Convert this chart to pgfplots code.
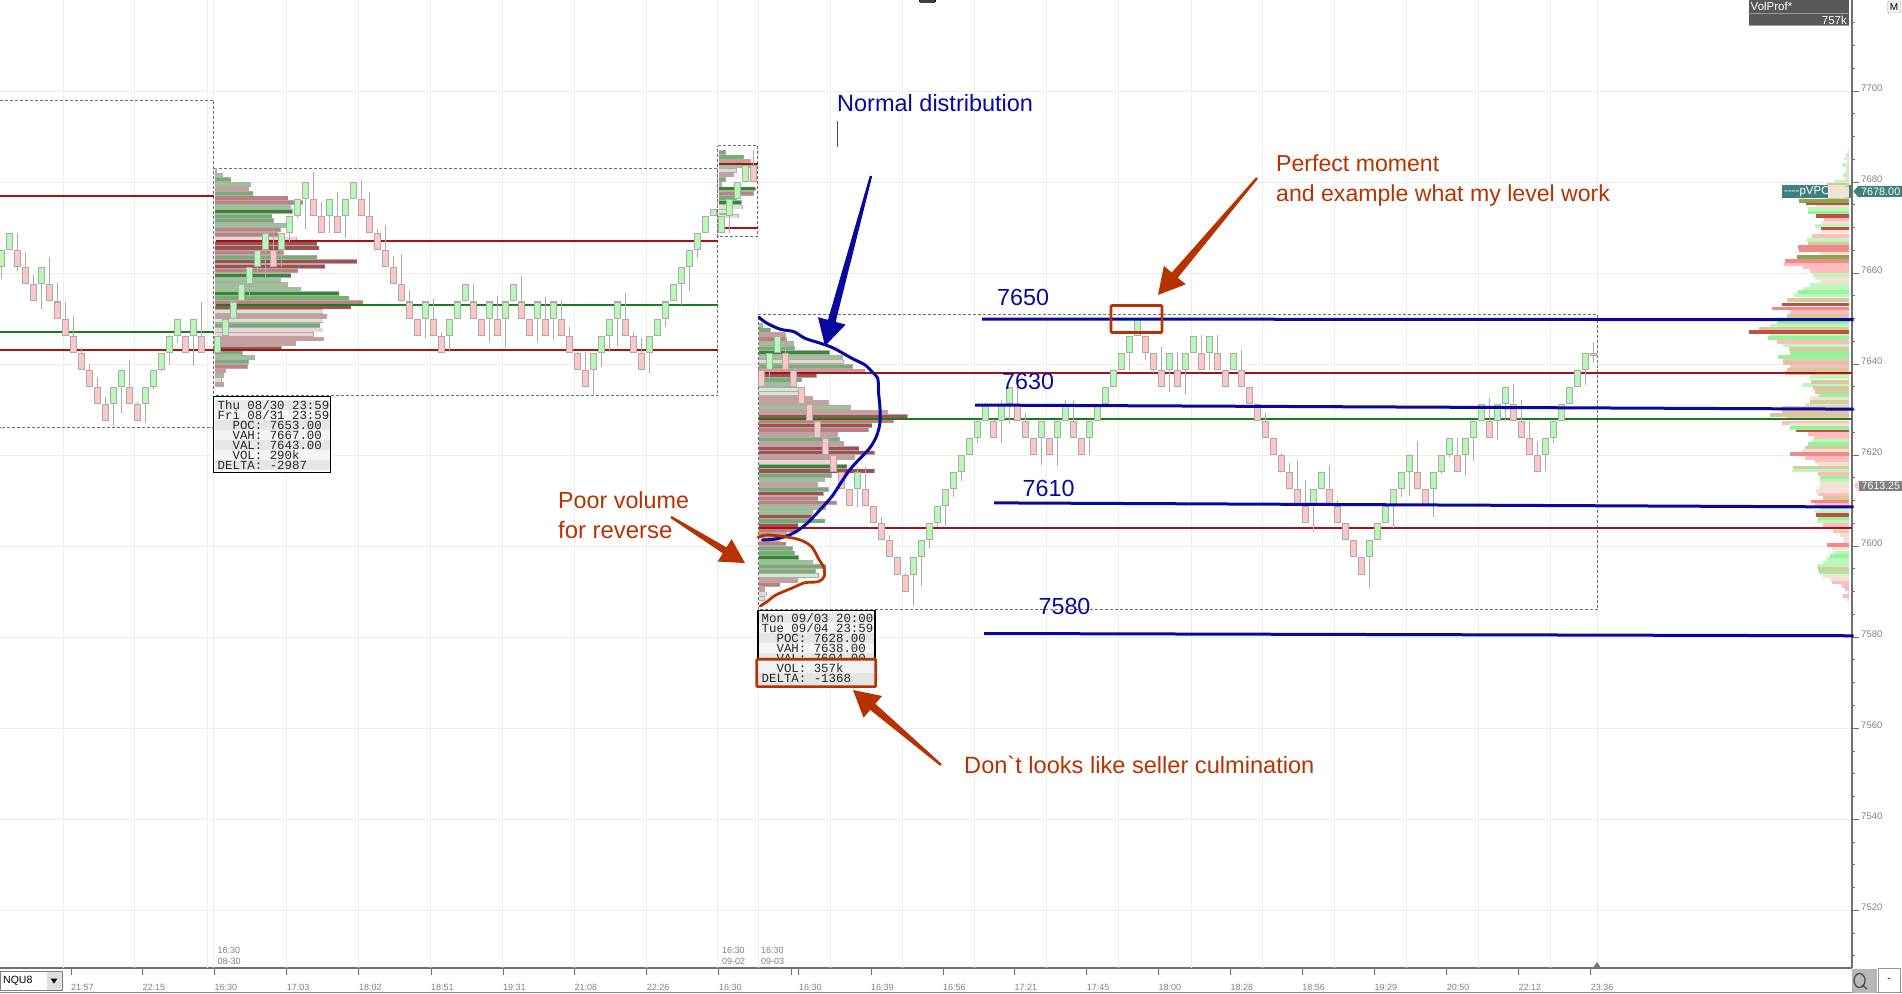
\documentclass[border=0pt]{standalone}
\usepackage{fontspec}
\setmainfont{Liberation Sans}
\setmonofont{Liberation Mono}
\newfontfamily\rawsans{Liberation Sans}
\usepackage{pgfplots}
\usepackage{pgfplotstable}
\pgfplotsset{compat=1.18}
\usetikzlibrary{calc}

\definecolor{gridc}{HTML}{EDEDED}
\definecolor{axisc}{HTML}{707070}
\definecolor{labelc}{HTML}{808080}
\definecolor{lvlred}{HTML}{A81212}
\definecolor{lvlgreen}{HTML}{1A7D1A}
\definecolor{penblue}{HTML}{0808A0}
\definecolor{penred}{HTML}{B83200}
\definecolor{boxc}{HTML}{707070}
\definecolor{cgreen}{HTML}{B6F8B6}
\definecolor{cpink}{HTML}{FFC6C6}
\definecolor{cedge}{HTML}{ABABAB}
\definecolor{profedge}{HTML}{B2AAAA}
\definecolor{teal}{HTML}{3F7F7F}
% session profile classes
\definecolor{prof0}{HTML}{2E8B2E}
\definecolor{prof1}{HTML}{72B072}
\definecolor{prof2}{HTML}{98C498}
\definecolor{prof3}{HTML}{D4E6D4}
\definecolor{prof4}{HTML}{A05050}
\definecolor{prof5}{HTML}{BC8080}
\definecolor{prof6}{HTML}{CC9C9C}
\definecolor{prof7}{HTML}{E8D6D6}
% right hand VolProf classes
\definecolor{rprof0}{HTML}{BCF8BC}
\definecolor{rprof1}{HTML}{FFBCBC}
\definecolor{rprof2}{HTML}{D8C8A0}
\definecolor{rprof3}{HTML}{F2E2D6}
\definecolor{rprof4}{HTML}{F08A8A}
\definecolor{rprof5}{HTML}{C05040}
\definecolor{rprof6}{HTML}{98F298}
\definecolor{rprof7}{HTML}{88A848}

% candles: x, body low, body high, wick low, wick high
\pgfplotstableread{
x lo hi wl wh
1.5 7661.25 7665 7658.7 7665
9.5 7665 7668.75 7665 7668.75
41.5 7657.5 7661.25 7652.2 7661.25
113.5 7631.25 7635 7626.5 7635
121.5 7635 7638.75 7629.3 7638.75
145.5 7631.25 7635 7627.1 7635
153.5 7635 7638.75 7634.6 7638.75
161.5 7638.75 7642.5 7638.4 7642.5
169.5 7642.5 7646.25 7639.9 7646.25
177.5 7646.25 7650 7644.6 7650
193.5 7646.25 7650 7639.6 7650
217.5 7642.5 7646.25 7642.5 7646.25
225.5 7646.25 7650 7645.4 7650
233.5 7650 7653.75 7650 7653.75
241.5 7653.75 7657.5 7653.75 7657.5
249.5 7657.5 7661.25 7654.4 7661.25
257.5 7661.25 7665 7660.3 7665
265.5 7665 7668.75 7658.6 7668.75
281.5 7665 7668.75 7661.4 7668.75
289.5 7668.75 7672.5 7666.9 7672.5
297.5 7672.5 7676.25 7672 7676.25
305.5 7676.25 7680 7669.6 7680
329.5 7672.5 7676.25 7668.7 7676.25
345.5 7672.5 7676.25 7667.6 7676.25
353.5 7676.25 7680 7676.25 7680
425.5 7650 7653.75 7645.7 7653.75
449.5 7646.25 7650 7642.7 7650
457.5 7650 7653.75 7650 7653.75
465.5 7653.75 7657.5 7653.75 7657.5
489.5 7650 7653.75 7644.9 7653.75
505.5 7650 7653.75 7643.5 7653.75
513.5 7653.75 7657.5 7653.75 7657.5
537.5 7650 7653.75 7644.9 7653.75
553.5 7650 7653.75 7645.4 7653.75
593.5 7638.75 7642.5 7633.4 7642.5
601.5 7642.5 7646.25 7639.4 7646.25
609.5 7646.25 7650 7642.7 7650
617.5 7650 7653.75 7644 7653.75
649.5 7642.5 7646.25 7638.1 7646.25
657.5 7646.25 7650 7646.25 7650
665.5 7650 7653.75 7648.2 7653.75
673.5 7653.75 7657.5 7653.75 7657.5
681.5 7657.5 7661.25 7653 7661.25
689.5 7661.25 7665 7656 7665
697.5 7665 7668.75 7663.2 7668.75
705.5 7668.75 7672.5 7668.75 7672.5
713.5 7672.5 7674 7672.5 7674
721.5 7668.75 7672.5 7668.7 7672.5
729.5 7672.5 7676.25 7668.7 7676.25
737.5 7676.25 7680 7676.25 7680
745.5 7680 7683.75 7679.9 7683.75
769.2 7638.75 7642.5 7635 7642.5
777.2 7642.5 7646.25 7642.5 7646.25
857.2 7612.5 7616.25 7608.7 7617.3
913.2 7593.75 7597.5 7586.9 7597.5
921.2 7597.5 7601.25 7591.3 7601.25
929.2 7601.25 7605 7599.5 7605
937.2 7605 7608.75 7604.3 7608.75
945.2 7608.75 7612.5 7604.4 7612.5
953.2 7612.5 7616.25 7610.9 7616.25
961.2 7616.25 7620 7614.2 7620
969.2 7620 7623.75 7620 7623.75
977.2 7623.75 7627.5 7622.6 7627.5
985.2 7627.5 7631.25 7627.5 7631.5
1001.2 7627.5 7631.25 7622.6 7632
1009.2 7631.25 7635 7626.8 7635
1041.2 7623.75 7627.5 7617.8 7627.5
1057.2 7623.75 7627.5 7617.5 7627.5
1065.2 7627.5 7631.25 7627.5 7632
1089.2 7623.75 7627.5 7620 7627.5
1097.2 7627.5 7631.25 7627.5 7631.25
1105.2 7631.25 7635 7631.25 7635
1113.2 7635 7638.75 7635 7638.75
1121.2 7638.75 7642.5 7638.75 7642.5
1129.2 7642.5 7646.25 7638.8 7646.25
1137.2 7646.25 7650 7646.25 7650
1169.2 7638.75 7642.5 7633.9 7642.5
1185.2 7638.75 7642.5 7633.2 7642.5
1193.2 7642.5 7646.25 7642.5 7646.25
1209.2 7642.5 7646.25 7638.7 7646.25
1233.2 7638.75 7642.5 7638.75 7642.5
1313.2 7608.75 7612.5 7603.2 7612.5
1321.2 7612.5 7616.25 7612.5 7616.25
1369.2 7597.5 7601.25 7590.7 7601.25
1377.2 7601.25 7605 7601.25 7605
1385.2 7605 7608.75 7605 7608.75
1393.2 7608.75 7612.5 7603.9 7612.5
1401.2 7612.5 7616.25 7610.9 7616.25
1409.2 7616.25 7620 7611.1 7620
1433.2 7612.5 7616.25 7606.5 7616.25
1441.2 7616.25 7620 7615.9 7620
1449.2 7620 7623.75 7619.5 7623.75
1465.2 7620 7623.75 7615.3 7623.75
1473.2 7623.75 7627.5 7618.6 7627.5
1481.2 7627.5 7631.25 7627.5 7631.25
1497.2 7627.5 7631.25 7623.3 7631.25
1505.2 7631.25 7635 7627.4 7635
1545.2 7620 7623.75 7616.4 7623.75
1553.2 7623.75 7627.5 7622.6 7627.5
1561.2 7627.5 7631.25 7627.5 7631.25
1569.2 7631.25 7635 7631.25 7635
1577.2 7635 7638.75 7634.9 7638.75
1585.2 7638.75 7642.5 7635.4 7642.5
}\greencandles

\pgfplotstableread{
x lo hi wl wh
17.5 7661.25 7665 7660.45 7668.7
25.5 7657.5 7661.25 7657.5 7664.55
33.5 7653.75 7657.5 7653.75 7659.6
49.5 7653.75 7657.5 7653.75 7663.5
57.5 7650 7653.75 7650 7657.9
65.5 7646.25 7650 7646.25 7653.6
73.5 7642.5 7646.25 7642.5 7650.6
81.5 7638.75 7642.5 7638.75 7643.5
89.5 7635 7638.75 7635 7640
97.5 7631.25 7635 7631.25 7637.2
105.5 7627.5 7631.25 7627.5 7632.8
129.5 7631.25 7635 7631.25 7640.9
137.5 7627.5 7631.25 7627.5 7631.7
185.5 7642.5 7646.25 7642.5 7646.25
201.5 7642.5 7646.25 7642.5 7653.6
273.5 7661.25 7665 7661.25 7672
313.5 7672.5 7676.25 7672.5 7682.3
321.5 7668.75 7672.5 7668.75 7675.7
337.5 7668.75 7672.5 7668.75 7677.9
361.5 7672.5 7676.25 7672.5 7680.4
369.5 7668.75 7672.5 7668.75 7677.9
377.5 7665 7668.75 7665 7669.6
385.5 7661.25 7665 7661.25 7670.6
393.5 7657.5 7661.25 7657.5 7663.7
401.5 7653.75 7657.5 7653.75 7664.1
409.5 7650 7653.75 7650 7656.3
417.5 7646.25 7650 7646.25 7650
433.5 7646.25 7650 7646.25 7654.3
441.5 7642.5 7646.25 7642.5 7647
473.5 7650 7653.75 7650 7657.6
481.5 7646.25 7650 7646.25 7650
497.5 7646.25 7650 7646.25 7655
521.5 7650 7653.75 7650 7659.3
529.5 7646.25 7650 7646.25 7650
545.5 7646.25 7650 7646.25 7654.8
561.5 7646.25 7650 7646.25 7654.1
569.5 7642.5 7646.25 7642.5 7648.2
577.5 7638.75 7642.5 7638.75 7642.7
585.5 7635 7638.75 7635 7642.7
625.5 7646.25 7650 7646.25 7655.7
633.5 7642.5 7646.25 7642.5 7647
641.5 7638.75 7642.5 7638.75 7645.8
753.5 7680 7683.75 7680 7687
761.2 7635 7638.75 7635 7638.75
785.2 7638.75 7642.5 7638.75 7646.8
793.2 7635 7638.75 7635 7639
801.2 7631.25 7635 7631.25 7635
809.2 7627.5 7631.25 7627.5 7631.25
817.2 7623.75 7627.5 7623.75 7627.5
825.2 7620 7623.75 7620 7623.75
833.2 7616.25 7620 7616.25 7620
841.2 7612.5 7616.25 7612.5 7616.25
849.2 7608.75 7612.5 7608.75 7612.5
865.2 7608.75 7612.5 7608.75 7617.3
873.2 7605 7608.75 7605 7608.75
881.2 7601.25 7605 7601.25 7606.5
889.2 7597.5 7601.25 7597.5 7602.5
897.2 7593.75 7597.5 7593.75 7597.7
905.2 7590 7593.75 7590 7594
993.2 7623.75 7627.5 7623.75 7628
1017.2 7627.5 7631.25 7627.5 7635
1025.2 7623.75 7627.5 7623.75 7629.2
1033.2 7620 7623.75 7620 7623.75
1049.2 7620 7623.75 7620 7623.75
1073.2 7623.75 7627.5 7623.75 7632.1
1081.2 7620 7623.75 7620 7623.75
1145.2 7642.5 7646.25 7640.9 7646.25
1153.2 7638.75 7642.5 7638 7642.5
1161.2 7635 7638.75 7635 7643.8
1177.2 7635 7638.75 7635 7642.7
1201.2 7638.75 7642.5 7638.75 7646.4
1217.2 7638.75 7642.5 7638.75 7646.4
1225.2 7635 7638.75 7635 7638.75
1241.2 7635 7638.75 7635 7643.2
1249.2 7631.25 7635 7631.25 7635
1257.2 7627.5 7631.25 7627.5 7631.25
1265.2 7623.75 7627.5 7623.75 7629.3
1273.2 7620 7623.75 7620 7623.75
1281.2 7616.25 7620 7616.25 7620.4
1289.2 7612.5 7616.25 7612.5 7618.2
1297.2 7608.75 7612.5 7608.75 7618.9
1305.2 7605 7608.75 7605 7614.5
1329.2 7608.75 7612.5 7608.75 7617.8
1337.2 7605 7608.75 7605 7610.1
1345.2 7601.25 7605 7601.25 7605
1353.2 7597.5 7601.25 7597.5 7601.25
1361.2 7593.75 7597.5 7593.75 7597.5
1417.2 7612.5 7616.25 7612.5 7623.1
1425.2 7608.75 7612.5 7608.75 7612.5
1457.2 7616.25 7620 7616.25 7623.7
1489.2 7623.75 7627.5 7623.75 7632.5
1513.2 7627.5 7631.25 7627.5 7635.6
1521.2 7623.75 7627.5 7623.75 7632.1
1529.2 7620 7623.75 7620 7627.5
1537.2 7616.25 7620 7616.25 7623.1
1593.2 7641.7 7642.5 7640.2 7644.9
}\pinkcandles

% session volume profiles: price row, right end of bar, colour class
\pgfplotstableread{
p xe c
7682.5 216.7 2
7681.5 223.3 2
7680.5 231.3 1
7679.5 250.7 2
7678.5 249.3 6
7677.5 253.3 1
7676.5 288.3 5
7675.5 303.3 5
7674.5 290.7 2
7673.5 292.7 0
7672.5 272.3 1
7671.5 273.3 1
7670.5 286.7 2
7669.5 281 5
7668.5 278.3 5
7667.5 296.7 7
7666.5 317.3 4
7665.5 319.3 4
7664.5 284 5
7663.5 317.3 1
7662.5 357.3 4
7661.5 325.3 4
7660.5 298.3 5
7659.5 291.3 0
7658.5 280.7 2
7657.5 287.7 2
7656.5 300.7 2
7655.5 339.3 0
7654.5 349.3 1
7653.5 363.3 5
7652.5 351.3 4
7651.5 323.3 3
7650.5 326.7 6
7649.5 323.3 3
7648.5 320.3 1
7647.5 323.3 7
7646.5 313.7 7
7645.5 323.7 6
7644.5 295.7 6
7643.5 281.7 4
7642.5 242.7 1
7641.5 254.5 2
7640.5 248.7 1
7639.5 247.7 5
7638.5 226.4 6
7637.5 223.5 2
7636.5 221.5 7
7635.5 223.5 6
}\profB

\pgfplotstableread{
p xe c
7686.5 725.6 1
7685.5 744 1
7684.5 751 6
7683.5 753 2
7682.5 737 7
7681.5 734 6
7680.5 725.6 1
7679.5 722 2
7678.5 756 0
7677.5 754 5
7676.5 737 1
7675.5 741.6 0
7674.5 743 3
7673.5 732 3
7672.5 739 3
7671.5 722 4
}\profC

\pgfplotstableread{
p xe c
7648.5 762.5 2
7647.5 770.5 1
7646.5 784.8 6
7645.5 787 5
7644.5 793.8 2
7643.5 794.6 1
7642.5 829.5 0
7641.5 842.9 2
7640.5 843.8 7
7639.5 852.7 1
7638.5 865.2 6
7637.5 817 4
7636.5 801.8 1
7635.5 797.3 2
7634.5 804.9 3
7633.5 799.1 3
7632.5 812.5 6
7631.5 828.6 6
7630.5 850.9 2
7629.5 887.5 6
7628.5 907.6 4
7627.5 893.8 5
7626.5 872.3 4
7625.5 868.8 5
7624.5 838.4 6
7623.5 839.7 1
7622.5 843.8 6
7621.5 859.4 4
7620.5 874.6 4
7619.5 854.5 6
7618.5 836.6 7
7617.5 847.3 0
7616.5 874.6 4
7615.5 831.7 1
7614.5 825 2
7613.5 817.9 6
7612.5 828.6 1
7611.5 823.7 4
7610.5 818.3 5
7609.5 836.6 5
7608.5 826.3 2
7607.5 812.5 2
7606.5 811.6 4
7605.5 825.4 1
7604.5 798.2 4
7603.5 798.2 5
7602.5 787 6
7601.5 780.4 7
7600.5 786.2 5
7599.5 792.9 1
7598.5 795.1 1
7597.5 799.1 0
7596.5 812.9 2
7595.5 826.3 1
7594.5 816.1 1
7593.5 818.8 3
7592.5 798.2 6
7591.5 780.4 5
7590.5 765.2 6
7589.5 766.5 7
7588.5 764.7 3
}\profD

% composite VolProf on the right: price row, left end of bar, colour class
\pgfplotstableread{
p xs c
7686.7 1848.3 0
7686.0 1846 0
7685.2 1844 3
7684.5 1847.3 3
7683.7 1842 0
7683.0 1847.3 1
7682.3 1845 3
7681.5 1843.3 0
7680.8 1844 3
7680.1 1834.3 0
7679.4 1827.3 2
7678.6 1826 0
7677.9 1827.3 3
7677.2 1829.3 3
7676.4 1827.3 2
7675.9 1799.3 7
7675.3 1806 5
7674.6 1816 3
7674.0 1808.3 0
7673.3 1808.3 6
7672.5 1816 5
7671.8 1824 1
7671.1 1821.7 3
7670.3 1815 0
7669.8 1821 5
7669.1 1821.7 3
7668.1 1811.7 1
7667.3 1806.7 0
7666.5 1808.3 2
7665.8 1798.3 4
7665.1 1799.3 4
7664.3 1820 3
7663.6 1797.3 7
7662.6 1785 4
7661.9 1784.3 1
7661.2 1803.3 1
7660.4 1810 1
7659.6 1812.7 0
7658.8 1815 3
7658.1 1820 3
7657.4 1810 0
7656.6 1803.3 0
7655.9 1798.3 6
7655.2 1794.3 0
7654.1 1786.7 2
7653.1 1781.7 5
7652.2 1772.3 4
7651.4 1790 1
7650.6 1787.3 2
7649.9 1777.3 0
7649.2 1776.7 6
7648.4 1770 0
7647.7 1759 2
7647.1 1749 5
7646.4 1770 0
7645.7 1768.3 6
7644.9 1777.3 1
7644.2 1783.3 0
7643.3 1789.3 2
7642.4 1790 6
7641.6 1777.7 6
7640.9 1783.3 1
7640.2 1783.3 2
7639.4 1790 1
7638.7 1786.7 2
7638.0 1785 2
7637.2 1810 0
7636.1 1810.7 2
7635.4 1801.7 0
7634.7 1813.3 2
7633.9 1815 2
7633.2 1819 6
7632.5 1810 3
7631.7 1810 2
7631.0 1805 0
7630.3 1782.3 1
7629.5 1782.3 2
7628.8 1770 2
7628.1 1786.7 1
7627.1 1782.3 1
7626.6 1790 3
7625.9 1790 6
7625.4 1796 5
7624.6 1808.3 1
7623.9 1814 1
7623.2 1811.7 0
7622.4 1808.3 6
7621.6 1805 2
7620.9 1801.7 3
7620.2 1790 4
7619.4 1805 1
7618.7 1815 1
7618.0 1818.3 3
7617.3 1792.7 2
7616.6 1792.3 0
7615.8 1818.3 1
7615.1 1820 6
7614.4 1820 0
7613.7 1820 3
7612.9 1819.3 3
7612.1 1815.7 3
7611.4 1818.3 1
7610.6 1822.7 2
7609.8 1811 4
7609.0 1815 1
7608.3 1820 3
7607.6 1815 0
7606.8 1816 5
7606.1 1818.3 6
7605.4 1817.3 0
7604.6 1823.3 1
7603.9 1833.3 0
7603.2 1833.3 1
7602.4 1840 3
7601.7 1843.3 3
7601.0 1843.3 3
7600.2 1827.3 4
7599.5 1831.7 3
7598.6 1833.3 0
7597.9 1830 6
7597.2 1826.7 0
7596.4 1823.3 0
7595.7 1817.3 0
7595.0 1818.3 2
7594.2 1819.3 6
7593.5 1823.3 3
7592.8 1830 3
7592.0 1832.3 1
7591.3 1841.7 1
7590.6 1845 1
7589.8 1848.3 3
7589.1 1843.3 1
7588.2 1847.3 3
}\profR

\pgfplotsset{errplot/.style={draw=none,mark=none,forget plot}}
\newcommand\sessionprofile[2]{%
  \addplot[errplot,error bars/.cd,x dir=minus,x explicit,error mark=none,
    error bar style={line width=4.55pt,color=profedge}]
    table[x=xe,y=p,x error minus expr=\thisrow{xe}-#1] {#2};
  \pgfplotsinvokeforeach{0,...,7}{
    \addplot[errplot,restrict expr to domain={\thisrow{c}}{##1:##1},
      error bars/.cd,x dir=minus,x explicit,error mark=none,
      error bar style={line width=3.2pt,color=prof##1}]
      table[x expr=\thisrow{xe}-0.7,y=p,x error minus expr=\thisrow{xe}-0.7-#1] {#2};
  }%
}
\newcommand\candles[2]{%
  \addplot[errplot,error bars/.cd,y dir=plus,y explicit,error mark=none,
    error bar style={line width=1pt,color=cedge}]
    table[x=x,y=wl,y error plus expr=\thisrow{wh}-\thisrow{wl}] {#1};
  \addplot[errplot,error bars/.cd,y dir=plus,y explicit,error mark=none,
    error bar style={line width=6.8pt,color=cedge}]
    table[x=x,y=lo,y error plus expr=\thisrow{hi}-\thisrow{lo}] {#1};
  \addplot[errplot,error bars/.cd,y dir=plus,y explicit,error mark=none,
    error bar style={line width=4.6pt,color=#2}]
    table[x=x,y expr=\thisrow{lo}+0.22,y error plus expr=\thisrow{hi}-\thisrow{lo}-0.44] {#1};
}
% tapered hand drawn arrow, tail to tip: from, to, colour, head size, neck half width
\newcommand\harrow[5]{%
  \path (#1) coordinate (ta) (#2) coordinate (ti);
  \path ($(ti)!#4!(ta)$) coordinate (ne);
  \fill[#3] ($(ta)!1.2pt!90:(ti)$) -- ($(ne)!#5!-90:(ta)$) -- ($(ne)!0.55*#4!-90:(ta)$) -- (ti)
    -- ($(ne)!0.55*#4!90:(ta)$) -- ($(ne)!#5!90:(ta)$) -- ($(ta)!1.2pt!-90:(ti)$) -- cycle;
}

\begin{document}
\begin{tikzpicture}
\useasboundingbox (0,-25pt) rectangle (1902pt,968pt);
\begin{axis}[
  at={(0,0)},anchor=south west,
  width=1852pt,height=968pt,scale only axis,clip=false,
  xmin=0,xmax=1852,ymin=7507.3,ymax=7720,
  axis x line*=bottom,axis y line*=right,
  axis line style={draw=axisc,line width=1.6pt,-},
  xtick={70.9,142.4,214.5,286.7,358.8,430.9,503,574.5,646.7,718.8,790.9,798.8,870.9,943,1014.4,1086.6,1158.3,1230.5,1302.2,1374.4,1446.7,1518.3,1590.6},
  xticklabels={21:57,22:15,16:30,17:03,18:02,18:51,19:31,21:08,22:26,16:30,,16:30,16:39,16:56,17:21,17:45,18:00,18:28,18:56,19:29,20:50,22:12,23:36},
  x tick label style={anchor=west,font=\fontsize{9}{10}\selectfont,text=labelc,inner sep=0pt,yshift=-12.5pt},
  x tick style={draw=axisc,line width=0.8pt},
  extra x ticks={63,134.7,207,213.8,286,358.7,430.4,502.7,574.4,646,717.9,758,830.4,902,974.5,1046.4,1118.8,1191,1262.5,1334.4,1406,1478.5,1550,1597.5},
  extra x tick labels={},
  extra x tick style={grid=major,major tick length=0pt},
  ytick={7520,7540,...,7700},
  minor ytick={7510,7515,...,7715},
  ymajorgrids,
  major grid style={draw=gridc,line width=1pt},
  y tick label style={anchor=west,font=\fontsize{9.5}{10}\selectfont,text=labelc,inner sep=0pt,xshift=2pt,yshift=2.7pt},
  /pgf/number format/assume math mode=true,
  /pgf/number format/1000 sep={},
  y tick style={draw=axisc,line width=0.8pt},
  tick align=outside,
  major tick length=7pt,minor tick length=3pt,
]
% dashed session frames
\addplot[boxc,line width=1pt,dash pattern=on 3pt off 2pt] coordinates {(0,7698)(213.8,7698)(213.8,7626)(0,7626)};
\addplot[boxc,line width=1pt,dash pattern=on 3pt off 2pt] coordinates {(213.8,7683)(717.5,7683)(717.5,7633)(213.8,7633)};
\addplot[boxc,line width=1pt,dash pattern=on 3pt off 2pt] coordinates {(717.9,7688)(757.6,7688)(757.6,7668)(717.9,7668)(717.9,7688)};
\addplot[boxc,line width=1pt,dash pattern=on 3pt off 2pt] coordinates {(758,7651)(1597.5,7651)(1597.5,7586)(758,7586)(758,7651)};

\sessionprofile{214.5}{\profB}
\sessionprofile{718.5}{\profC}
\sessionprofile{758.5}{\profD}
\pgfplotsinvokeforeach{0,...,7}{
  \addplot[errplot,restrict expr to domain={\thisrow{c}}{#1:#1},
    error bars/.cd,x dir=plus,x explicit,error mark=none,
    error bar style={line width=3.7pt,color=rprof#1}]
    table[x=xs,y=p,x error plus expr=1849-\thisrow{xs}] {\profR};
}

% POC, VAH, VAL levels
\addplot[lvlred,line width=2pt] coordinates {(0,7677)(213.8,7677)};
\addplot[lvlgreen,line width=2pt] coordinates {(0,7647)(213.8,7647)};
\addplot[lvlred,line width=2pt] coordinates {(0,7643)(717.5,7643)};
\addplot[lvlred,line width=2pt] coordinates {(215.5,7667)(717.5,7667)};
\addplot[lvlgreen,line width=2pt] coordinates {(215.5,7653)(717.5,7653)};
\addplot[lvlred,line width=2pt] coordinates {(719,7684)(757.6,7684)};
\addplot[lvlred,line width=2pt] coordinates {(725,7670)(757.6,7670)};
\addplot[lvlred,line width=2pt] coordinates {(758.5,7638)(1852,7638)};
\addplot[lvlgreen,line width=2pt] coordinates {(758.5,7628)(1852,7628)};
\addplot[lvlred,line width=2pt] coordinates {(758.5,7604)(1852,7604)};

\candles{\greencandles}{cgreen}
\candles{\pinkcandles}{cpink}

% levels drawn by hand
\addplot[penblue,line width=3pt] coordinates {(982,7649.9)(1853.5,7649.75)};
\addplot[penblue,line width=3pt] coordinates {(975,7631)(1853.5,7630.1)};
\addplot[penblue,line width=3pt] coordinates {(994,7609.5)(1853.5,7608.6)};
\addplot[penblue,line width=3pt] coordinates {(984,7580.8)(1853.5,7580.3)};
\end{axis}

\begin{scope}[x=1pt,y=-1pt,yshift=968pt]
% top marks
\fill[black] (919,0) rectangle (936,2);
\fill[black!75] (920,0) rectangle (935,3);
% info box, session B
\fill[white] (213.8,396.3) rectangle (330.6,472.3);
\foreach \y/\c in {405/E8E8E8,415/F4F4F4,425/E6E6E6,435/F4F4F4,445/E6E6E6,455/F4F4F4,465/E6E6E6}{
  \definecolor{rowc}{HTML}{\c}\fill[rowc] (214.5,\y-5) rectangle (330,\y+5);}
\draw[black,line width=1.3pt] (213.8,396.3) rectangle (330.6,472.3);
\begin{scope}[every node/.style={anchor=west,inner sep=0pt,font=\ttfamily\fontsize{12.4}{12}\selectfont,text=black!85}]
\node at (217.5,405) {Thu 08/30 23:59};
\node at (217.5,415) {Fri 08/31 23:59};
\node at (217.5,425) {\ \ POC: 7653.00};
\node at (217.5,435) {\ \ VAH: 7667.00};
\node at (217.5,445) {\ \ VAL: 7643.00};
\node at (217.5,455) {\ \ VOL: 290k};
\node at (217.5,465) {DELTA: -2987};
\end{scope}
% info box, session D
\fill[white] (758,610.3) rectangle (875,686);
\foreach \y/\c in {618.3/E8E8E8,628.3/F4F4F4,638.3/E6E6E6,648.3/F4F4F4,658.3/E6E6E6}{
  \definecolor{rowc}{HTML}{\c}\fill[rowc] (758.5,\y-5) rectangle (874.5,\y+5);}
\draw[black,line width=1.3pt] (758,610.3) -- (875,610.3) (758,610.3) -- (758,660) (875,610.3) -- (875,660);
\begin{scope}[every node/.style={anchor=west,inner sep=0pt,font=\ttfamily\fontsize{12.4}{12}\selectfont,text=black!85}]
\node at (761.5,618.3) {Mon 09/03 20:00};
\node at (761.5,628.3) {Tue 09/04 23:59};
\node at (761.5,638.3) {\ \ POC: 7628.00};
\node at (761.5,648.3) {\ \ VAH: 7638.00};
\node at (761.5,658.3) {\ \ VAL: 7604.00};
\end{scope}
\fill[white!95!black] (757,660) rectangle (875.5,673);
\fill[white!90!black] (757,673) rectangle (875.5,686.5);
\begin{scope}[every node/.style={anchor=west,inner sep=0pt,font=\ttfamily\fontsize{12.4}{12}\selectfont,text=black!85}]
\node at (761.5,668.3) {\ \ VOL: 357k};
\node at (761.5,678.3) {DELTA: -1368};
\end{scope}
% pen strokes
\draw[penblue,line width=3pt,line cap=round,line join=round] plot[smooth,tension=0.5] coordinates {(758.9,317.3)(767,323.3)(780.4,329.3)(793.8,331.7)(804.9,338.3)(820.5,343.3)(833.9,348.3)(851.8,358.3)(865.2,365)(871.9,371.7)(877.7,378.3)(878.6,393.3)(879.9,406.7)(879.9,423.3)(876.3,436.7)(869.6,448.3)(858.5,460)(849.6,470)(840.6,483.3)(831.7,496.7)(818.3,511.7)(807.1,523.3)(796,531.7)(784.8,536.7)(773.7,539.3)(762.5,540)};
\draw[penred,line width=2.8pt,line cap=round,line join=round] plot[smooth,tension=0.5] coordinates {(758,537.3)(767,535)(784.8,536.7)(800.4,540)(811.6,546.7)(818.3,558.3)(824.1,568.3)(824.1,576.7)(818.3,581.7)(804.9,582.7)(791.5,588.3)(775.9,595)(767,601.7)(760.3,606)};
\draw[penred,line width=2.6pt,rounded corners=1pt] (1111,305.5) rectangle (1162,332.5);
\draw[penred,line width=2.6pt,rounded corners=1pt] (756.7,659.3) rectangle (875.7,686.7);
\harrow{871,176}{825,346}{penblue}{26pt}{4pt}
\harrow{1257,178}{1158,295}{penred}{26pt}{4pt}
\harrow{671,517}{745,563}{penred}{24pt}{3.5pt}
\harrow{941,765}{853,690}{penred}{26pt}{4pt}
\draw[black!70,line width=1pt] (837,121) -- (837,147);
% notes
\begin{scope}[every node/.style={anchor=west,inner sep=0pt,font=\fontsize{23.3}{24}\selectfont}]
\node[text=penblue,font=\fontsize{23.5}{24}\selectfont] at (837,103) {Normal distribution};
\node[text=penred,font=\fontsize{23.1}{24}\selectfont] at (1276,163) {Perfect moment};
\node[text=penred,font=\fontsize{23.1}{24}\selectfont] at (1276,195.5) {and example what my level work};
\node[text=penred] at (558,500) {Poor volume};
\node[text=penred,font=\fontsize{23.9}{24}\selectfont] at (558,530) {for reverse};
\node[text=penred,font=\rawsans\fontsize{23.6}{24}\selectfont] at (964,765) {Don`t looks like seller culmination};
\node[text=penblue] at (997,297.5) {7650};
\node[text=penblue] at (1002,381) {7630};
\node[text=penblue] at (1022.5,488) {7610};
\node[text=penblue] at (1038.4,606) {7580};
\end{scope}
% session start stamps
\begin{scope}[every node/.style={anchor=west,inner sep=0pt,font=\fontsize{9}{10}\selectfont,text=labelc}]
\node at (217.5,950.7) {16:30};
\node at (217.5,961.7) {08-30};
\node at (722,950.7) {16:30};
\node at (722,961.7) {09-02};
\node at (761,950.7) {16:30};
\node at (761,961.7) {09-03};
\end{scope}
% right hand tags
\fill[black!65] (1748.7,0) rectangle (1848.7,26);
\draw[black!40,line width=1pt] (1748.7,13.5) -- (1848.7,13.5) (1748.7,26) -- (1848.7,26);
\node[anchor=west,inner sep=0pt,text=white,font=\fontsize{11.5}{12}\selectfont] at (1750.5,6.5) {VolProf*};
\node[anchor=east,inner sep=0pt,text=white,font=\fontsize{11.5}{12}\selectfont] at (1847,20) {757k};
\draw[black!35,fill=black!5,rounded corners=2pt] (1887.5,1) rectangle (1900.5,13);
\node[inner sep=0pt,font=\fontsize{10}{10}\selectfont] at (1894,7) {M};
\fill[teal] (1782,185) rectangle (1828,198);
\node[anchor=west,inner sep=0pt,text=white,font=\rawsans\fontsize{11.5}{12}\selectfont] at (1784,192) {----pVPO};
\fill[rprof3] (1828,185.5) rectangle (1846,198);
\fill[teal] (1849,185) rectangle (1851,198);
\fill[teal] (1853.3,191.5) -- (1858,186) -- (1902,186) -- (1902,197) -- (1858,197) -- cycle;
\node[anchor=west,inner sep=0pt,text=white,font=\fontsize{10.8}{12}\selectfont] at (1861,191.7) {7678.00};
\fill[cpink] (1853.5,485.7) -- (1858.5,480.7) -- (1858.5,491) -- cycle;
\fill[black!50] (1858.5,480.7) rectangle (1902,491);
\node[anchor=west,inner sep=0pt,text=white,font=\fontsize{10.6}{12}\selectfont] at (1861.5,485.9) {7613.25};
\fill[black!55] (1593,968) -- (1597,962) -- (1601,968) -- cycle;
% bottom strip
\draw[black!45,line width=1pt] (0,992.5) -- (1902,992.5);
\draw[black!50,fill=white,line width=0.7pt] (0.3,971) rectangle (62,990);
\fill[black!12] (47,971.5) rectangle (61.5,989.5);
\fill[black] (50.5,978.5) -- (57.5,978.5) -- (54,983.5) -- cycle;
\node[anchor=west,inner sep=0pt,font=\fontsize{10.5}{11}\selectfont] at (3,980.5) {NQU8};
\fill[black!28] (1851.6,968.5) rectangle (1877,992.5);
\draw[black!70,line width=1.3pt] (1859.5,980.5) ellipse (5.5 and 7);
\draw[black!70,line width=1.3pt] (1862,985) -- (1867,989);
\draw[black!40,fill=white,line width=0.6pt] (1878,968.5) rectangle (1900,992.5);
\node[inner sep=0pt,font=\fontsize{10}{10}\selectfont] at (1889,980) {-};
\end{scope}
\end{tikzpicture}
\end{document}
